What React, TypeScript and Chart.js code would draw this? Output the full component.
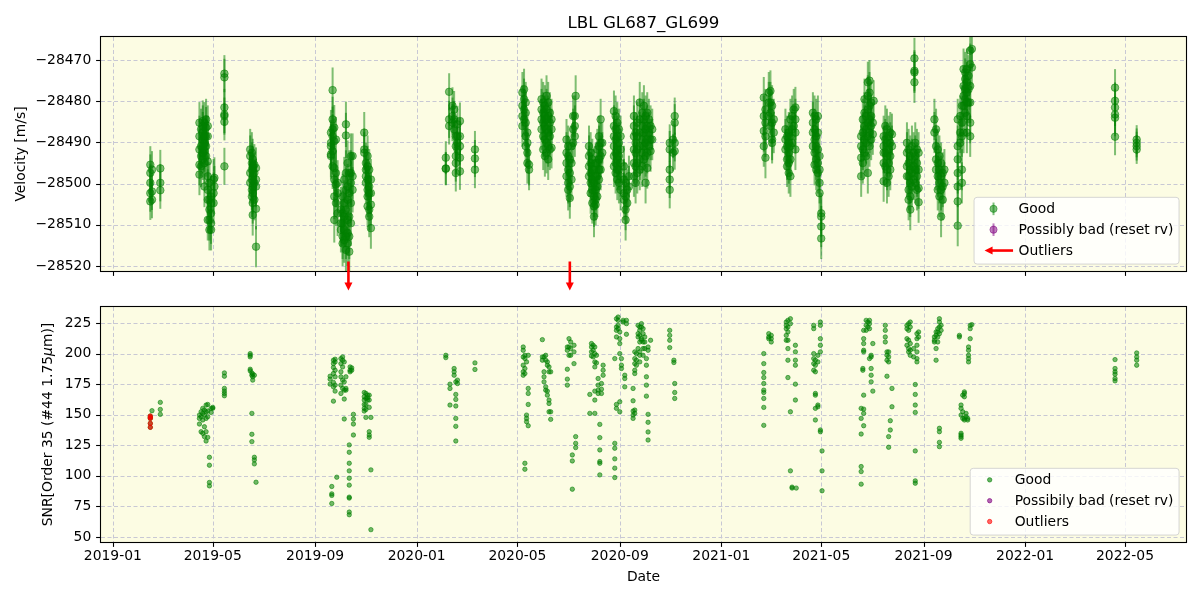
import React, { useEffect, useRef } from "react";
import { Chart, registerables } from "chart.js";

Chart.register(...registerables);

const FONT = "'DejaVu Sans', sans-serif";
const FS = 13.9;

// ---------------- data ----------------
const titleText = "LBL GL687_GL699";
const xTickLabels = ["2019-01", "2019-05", "2019-09", "2020-01", "2020-05", "2020-09", "2021-01", "2021-05", "2021-09", "2022-01", "2022-05"];
const rvTicks = [-28520, -28510, -28500, -28490, -28480, -28470];
const snrTicks = [50, 75, 100, 125, 150, 175, 200, 225];
const rvLimits = [-28521.2, -28464.4];
const snrLimits = [45.9, 238.1];
const rvLabel = "Velocity [m/s]";
const snrLabelParts = [
  { text: "SNR[Order 35 (#44 1.75", italic: false },
  { text: "\u03bc", italic: true },
  { text: "m)]", italic: false },
];
const xLabel = "Date";

const rvDates = [
  "2019-02-15", "2019-02-17", "2019-02-27",
  "2019-04-15", "2019-04-17", "2019-04-19", "2019-04-21", "2019-04-23", "2019-04-25", "2019-04-27", "2019-04-29", "2019-05-02", "2019-05-03",
  "2019-05-15",
  "2019-06-15", "2019-06-17", "2019-06-18", "2019-06-20", "2019-06-22",
  "2019-09-20", "2019-09-22", "2019-09-24", "2019-09-26", "2019-09-28", "2019-10-02", "2019-10-04", "2019-10-06", "2019-10-08", "2019-10-10", "2019-10-12", "2019-10-14", "2019-10-16",
  "2019-10-30", "2019-11-01", "2019-11-03", "2019-11-05", "2019-11-07",
  "2020-02-05", "2020-02-09", "2020-02-13", "2020-02-15", "2020-02-17", "2020-02-19", "2020-02-22", "2020-03-11",
  "2020-05-07", "2020-05-09", "2020-05-11", "2020-05-13", "2020-05-15",
  "2020-05-30", "2020-06-01", "2020-06-03", "2020-06-05", "2020-06-07", "2020-06-09", "2020-06-11",
  "2020-06-29", "2020-07-01", "2020-07-03", "2020-07-05", "2020-07-07", "2020-07-09", "2020-07-10",
  "2020-07-26", "2020-07-28", "2020-07-30", "2020-08-01", "2020-08-03", "2020-08-05", "2020-08-07", "2020-08-09", "2020-08-11",
  "2020-08-25", "2020-08-27", "2020-08-29", "2020-08-31", "2020-09-02", "2020-09-06", "2020-09-08", "2020-09-10", "2020-09-12",
  "2020-09-18", "2020-09-20", "2020-09-22", "2020-09-25", "2020-09-28", "2020-09-30", "2020-10-02", "2020-10-04", "2020-10-06", "2020-10-08", "2020-10-10",
  "2020-10-31", "2020-11-04", "2020-11-06",
  "2021-02-21", "2021-02-23", "2021-02-27", "2021-03-01", "2021-03-03", "2021-03-05",
  "2021-03-19", "2021-03-21", "2021-03-23", "2021-03-25", "2021-03-27", "2021-03-29", "2021-03-31",
  "2021-04-21", "2021-04-23", "2021-04-25", "2021-04-27", "2021-04-29", "2021-05-01",
  "2021-06-18", "2021-06-20", "2021-06-22", "2021-06-24", "2021-06-26", "2021-06-28", "2021-06-30", "2021-07-02", "2021-07-03",
  "2021-07-15", "2021-07-17", "2021-07-19", "2021-07-21", "2021-07-23", "2021-07-25",
  "2021-08-12", "2021-08-14", "2021-08-16", "2021-08-18", "2021-08-20", "2021-08-21", "2021-08-22", "2021-08-24", "2021-08-26",
  "2021-09-14", "2021-09-16", "2021-09-18", "2021-09-20", "2021-09-22", "2021-09-24", "2021-09-26",
  "2021-10-12", "2021-10-15", "2021-10-17", "2021-10-19", "2021-10-21", "2021-10-23", "2021-10-25", "2021-10-27", "2021-10-29",
  "2022-04-19", "2022-05-15",
];

const rvValues = [
  [-28495.4, -28497.4, -28499.8, -28502.3, -28504.3],
  [-28496.6, -28501.9, -28503.9],
  [-28496.3, -28499.8, -28501.6],
  [-28485.2, -28488.5, -28491.7, -28495.4, -28497.8],
  [-28486.8, -28490.9, -28493.3, -28495.8],
  [-28484.8, -28486.0, -28487.6, -28489.3, -28492.5, -28494.1],
  [-28485.2, -28488.5, -28490.1, -28492.1, -28495.0, -28500.7],
  [-28484.4, -28486.4, -28488.5, -28490.9, -28493.3],
  [-28486.0, -28488.5, -28494.6, -28498.2, -28501.5, -28503.9, -28508.8],
  [-28499.8, -28503.9, -28506.3, -28508.8, -28511.2],
  [-28503.1, -28504.7, -28507.2, -28509.6, -28511.2],
  [-28499.0, -28502.3, -28504.7],
  [-28498.6, -28500.7],
  [-28473.3, -28474.2, -28481.5, -28483.2, -28483.6, -28485.0, -28495.8],
  [-28491.7, -28493.3, -28497.4, -28499.8],
  [-28492.5, -28495.0, -28496.6, -28499.0, -28501.5, -28503.1],
  [-28494.1, -28495.8, -28498.2, -28500.7, -28502.3, -28504.7, -28507.6],
  [-28495.4, -28497.4, -28499.8, -28503.9],
  [-28496.2, -28499.0, -28500.7, -28506.1, -28515.3],
  [-28487.6, -28490.1, -28490.9, -28492.9, -28493.3],
  [-28477.3, -28484.4, -28486.8, -28488.5, -28492.1, -28495.8],
  [-28486.4, -28489.7, -28496.2, -28499.0, -28503.1, -28508.8],
  [-28489.3, -28497.4, -28500.2, -28504.7],
  [-28499.8, -28502.3, -28507.2],
  [-28506.3, -28509.6, -28511.2],
  [-28503.1, -28507.2, -28509.6, -28512.8, -28514.5],
  [-28499.0, -28504.7, -28508.0, -28511.2, -28513.7],
  [-28485.6, -28488.3, -28497.4, -28501.5, -28506.3, -28512.8, -28516.1],
  [-28495.0, -28500.7, -28503.9, -28508.8, -28512.0, -28514.5],
  [-28497.4, -28502.3, -28508.0, -28512.8, -28516.5],
  [-28493.3, -28497.4, -28499.8, -28504.7, -28509.6],
  [-28493.3, -28498.2, -28501.5],
  [-28487.6, -28491.7, -28492.5],
  [-28495.0, -28496.6, -28498.2, -28499.8],
  [-28493.3, -28495.8, -28499.0, -28501.5, -28503.1, -28505.5],
  [-28496.6, -28500.7, -28502.3, -28506.3, -28508.0],
  [-28499.0, -28502.3, -28505.1, -28510.8],
  [-28493.7, -28496.3, -28496.4],
  [-28477.7, -28484.4, -28486.0],
  [-28481.1, -28483.6, -28485.2],
  [-28482.0, -28484.4, -28486.8],
  [-28488.5, -28490.9, -28493.3, -28495.0, -28497.4],
  [-28485.6, -28488.5, -28490.1, -28491.7],
  [-28484.8, -28488.5, -28490.9, -28493.7, -28497.0],
  [-28491.7, -28493.9, -28496.6],
  [-28477.9, -28481.1, -28483.6, -28486.0],
  [-28477.1, -28479.5, -28482.0, -28484.4],
  [-28480.3, -28482.8, -28485.2, -28488.5, -28490.9],
  [-28487.6, -28490.1, -28492.5, -28495.0],
  [-28495.4, -28496.6],
  [-28479.5, -28482.0, -28484.4, -28486.8],
  [-28480.3, -28482.8, -28485.2, -28488.5, -28491.7],
  [-28481.1, -28483.6, -28486.0, -28489.3, -28493.3],
  [-28478.7, -28482.0, -28484.4, -28486.8, -28490.1, -28492.5],
  [-28480.3, -28483.6, -28487.6, -28490.9, -28494.1],
  [-28482.8, -28485.2, -28488.5, -28491.7],
  [-28484.4, -28486.8, -28491.3],
  [-28489.3, -28492.5, -28495.0, -28498.2],
  [-28490.9, -28493.3, -28496.6, -28499.8, -28501.5],
  [-28494.1, -28497.4, -28500.7, -28503.5],
  [-28490.9, -28495.0, -28499.0],
  [-28483.6, -28486.8, -28490.1],
  [-28483.6, -28486.0, -28488.5],
  [-28478.7],
  [-28490.9, -28493.3, -28495.8, -28498.2],
  [-28492.5, -28495.0, -28497.4, -28499.8, -28502.3],
  [-28494.1, -28496.6, -28499.0, -28501.5, -28504.7],
  [-28496.6, -28499.8, -28503.1, -28505.5, -28508.0],
  [-28495.0, -28498.2, -28501.5, -28503.9, -28505.1],
  [-28491.7, -28495.0, -28498.2, -28500.7, -28503.1],
  [-28488.5, -28490.9, -28494.1, -28496.6, -28499.0],
  [-28484.4, -28490.1, -28493.3, -28496.6],
  [-28490.1, -28492.5],
  [-28482.4, -28486.0, -28488.5, -28490.9, -28493.3, -28495.8],
  [-28483.6, -28486.8, -28489.3, -28492.5, -28495.0, -28497.4],
  [-28485.2, -28488.5, -28491.7, -28494.1, -28496.6, -28499.0],
  [-28486.8, -28490.1, -28493.3, -28496.6, -28499.8],
  [-28488.5, -28491.7, -28495.0, -28498.2, -28501.5],
  [-28495.8, -28499.0, -28502.3, -28503.9],
  [-28499.8, -28503.1, -28506.3, -28508.8],
  [-28501.5, -28504.7],
  [-28498.2, -28500.7],
  [-28483.6, -28486.0, -28488.5, -28491.7, -28495.0, -28498.2],
  [-28487.6, -28490.1, -28492.5, -28495.8, -28499.8],
  [-28485.2, -28488.5, -28491.7, -28495.0, -28497.4],
  [-28480.3, -28484.4, -28487.6, -28490.9, -28494.1, -28496.6],
  [-28482.8, -28486.0, -28489.3, -28492.5, -28495.8],
  [-28481.1, -28484.4, -28487.6, -28490.9, -28494.1],
  [-28483.6, -28486.8, -28490.1, -28493.3, -28499.8],
  [-28482.8, -28486.0, -28489.3, -28492.5, -28496.2],
  [-28484.4, -28487.6, -28490.9],
  [-28486.0, -28489.3, -28492.1],
  [-28486.8, -28489.3],
  [-28490.1, -28491.7, -28496.6, -28499.0, -28501.5],
  [-28489.3, -28492.5],
  [-28483.6, -28485.2, -28490.1, -28492.1],
  [-28479.1, -28483.6, -28487.2, -28490.9],
  [-28482.0, -28485.2, -28488.5, -28493.7],
  [-28477.9, -28480.3, -28483.6],
  [-28477.5, -28480.3, -28482.8, -28486.0],
  [-28481.1, -28485.2, -28489.3, -28490.1],
  [-28484.4, -28487.6],
  [-28486.8, -28489.3, -28491.7],
  [-28488.5, -28490.9, -28494.1, -28495.8],
  [-28487.6, -28490.1, -28492.5, -28495.0, -28497.4],
  [-28484.4, -28488.5, -28490.9, -28494.1, -28498.2],
  [-28483.6, -28486.8, -28490.1],
  [-28482.0, -28486.0],
  [-28481.5, -28484.4, -28487.6, -28491.7],
  [-28482.8, -28485.2, -28487.6, -28490.9],
  [-28483.6, -28486.8, -28489.3, -28492.5, -28495.4],
  [-28484.4, -28488.5, -28490.9, -28494.1, -28496.6],
  [-28483.6, -28487.6, -28491.7, -28495.0, -28497.4],
  [-28493.3, -28496.6, -28499.8, -28502.3],
  [-28507.2, -28508.0, -28510.4, -28513.3],
  [-28488.5, -28490.9, -28493.7, -28498.2],
  [-28484.4, -28487.6, -28491.7, -28495.0],
  [-28479.5, -28482.8, -28486.0, -28489.3, -28492.5],
  [-28483.6, -28486.8, -28490.1, -28493.3],
  [-28475.4, -28478.7, -28482.0, -28485.2, -28488.5, -28497.4],
  [-28475.0, -28477.9, -28481.1, -28484.4, -28487.6, -28490.9],
  [-28480.3, -28483.6, -28486.0, -28489.3],
  [-28485.2, -28488.0],
  [-28479.9],
  [-28488.5, -28490.9, -28492.5, -28495.0, -28499.4],
  [-28486.0, -28489.3, -28492.5, -28495.8],
  [-28486.8, -28490.1, -28493.3, -28496.6, -28499.8],
  [-28488.5, -28491.7, -28495.0, -28498.2],
  [-28487.6, -28490.1, -28493.3, -28496.6],
  [-28488.0, -28490.9],
  [-28490.1, -28492.5, -28495.8, -28498.2],
  [-28491.7, -28495.0, -28498.2, -28501.5, -28503.9],
  [-28493.3, -28496.6, -28499.8, -28503.1, -28506.3],
  [-28490.9, -28494.1, -28497.4, -28500.7],
  [-28492.5, -28495.8, -28499.0],
  [-28469.6, -28472.6, -28473.0, -28475.4],
  [-28490.1, -28493.3, -28496.6, -28499.8],
  [-28491.7, -28495.0, -28498.2, -28501.5],
  [-28492.5, -28496.6, -28501.1, -28504.5],
  [-28484.4, -28487.6],
  [-28486.8, -28490.9, -28494.1, -28496.6],
  [-28491.7, -28495.0, -28498.2, -28501.5],
  [-28493.3, -28496.6, -28499.8, -28503.1],
  [-28495.0, -28498.2, -28501.5, -28508.0],
  [-28497.4, -28500.7, -28503.9],
  [-28496.6, -28499.8],
  [-28484.4, -28490.9, -28494.1, -28497.4, -28500.7, -28504.3, -28510.2],
  [-28483.6, -28487.6, -28490.1],
  [-28481.1, -28485.2, -28488.5, -28496.6, -28499.8],
  [-28472.2, -28476.3, -28478.7, -28481.1, -28487.6],
  [-28473.0, -28474.6, -28477.1, -28479.5, -28482.8],
  [-28472.2, -28475.4, -28477.9, -28480.3, -28483.6, -28487.6],
  [-28473.8, -28477.1, -28480.3],
  [-28467.7, -28471.0, -28476.3, -28480.3, -28485.2, -28488.5],
  [-28467.3, -28471.8],
  [-28476.7, -28479.9, -28481.5, -28483.2, -28484.0, -28488.6],
  [-28489.3, -28490.1, -28490.9, -28491.7],
];

const rvErrors = [
  4.5, 4.5, 4.5,
  5, 5, 5, 5, 5, 5, 5, 5, 5, 5,
  4.5,
  5, 5, 5, 5, 5,
  5.5, 5.5, 5.5, 5.5, 5.5, 5.5, 5.5, 5.5, 5.5, 5.5, 5.5, 5.5, 5.5,
  5, 5, 5, 5, 5,
  4, 4.5, 4.5, 4.5, 4.5, 4.5, 4.5, 4.5,
  5, 5, 5, 5, 5,
  5, 5, 5, 5, 5, 5, 5,
  5, 5, 5, 5, 5, 5, 5,
  5, 5, 5, 5, 5, 5, 5, 5, 5,
  5, 5, 5, 5, 5, 5, 5, 5, 5,
  5, 5, 5, 5, 5, 5, 5, 5, 5, 5, 5,
  4.5, 4.5, 4.5,
  5, 5, 5, 5, 5, 5,
  5, 5, 5, 5, 5, 5, 5,
  5, 5, 5, 5, 5, 5,
  5, 5, 5, 5, 5, 5, 5, 5, 5,
  5, 5, 5, 5, 5, 5,
  5, 5, 5, 5, 5, 5, 5, 5, 5,
  5, 5, 5, 5, 5, 5, 5,
  5, 5, 5, 5, 5, 5, 5, 5, 5,
  4.5, 3.5,
];

const rvOutlierArrowDates = ["2019-10-11", "2020-07-03"];

const snrDates = [
  "2019-02-15", "2019-02-17", "2019-02-27",
  "2019-04-15", "2019-04-17", "2019-04-19", "2019-04-21", "2019-04-23", "2019-04-25", "2019-04-27", "2019-04-29", "2019-05-01",
  "2019-05-15",
  "2019-06-15", "2019-06-17", "2019-06-18", "2019-06-20", "2019-06-22",
  "2019-09-19", "2019-09-21", "2019-09-23", "2019-09-25", "2019-09-27", "2019-10-02", "2019-10-04", "2019-10-06", "2019-10-08", "2019-10-12", "2019-10-13", "2019-10-15", "2019-10-17",
  "2019-10-30", "2019-11-01", "2019-11-03", "2019-11-05", "2019-11-07",
  "2020-02-05", "2020-02-10", "2020-02-15", "2020-02-17", "2020-02-19", "2020-03-11",
  "2020-05-08", "2020-05-10", "2020-05-12", "2020-05-14",
  "2020-05-31", "2020-06-02", "2020-06-04", "2020-06-06", "2020-06-08", "2020-06-10",
  "2020-06-30", "2020-07-02", "2020-07-04", "2020-07-06", "2020-07-08", "2020-07-10",
  "2020-07-27", "2020-07-29", "2020-07-31", "2020-08-02", "2020-08-04", "2020-08-06", "2020-08-08", "2020-08-10", "2020-08-12",
  "2020-08-26", "2020-08-28", "2020-08-30", "2020-09-01", "2020-09-03", "2020-09-05", "2020-09-07", "2020-09-09",
  "2020-09-17", "2020-09-19", "2020-09-21", "2020-09-23", "2020-09-25", "2020-09-27", "2020-09-29", "2020-10-01", "2020-10-03", "2020-10-05", "2020-10-08",
  "2020-10-31", "2020-11-05", "2020-11-06",
  "2021-02-21", "2021-02-27", "2021-03-02",
  "2021-03-20", "2021-03-22", "2021-03-25", "2021-03-27", "2021-03-31", "2021-04-01",
  "2021-04-22", "2021-04-24", "2021-04-27", "2021-04-30", "2021-05-02",
  "2021-06-18", "2021-06-20", "2021-06-21", "2021-06-24", "2021-06-26", "2021-06-28", "2021-06-30", "2021-07-02",
  "2021-07-17", "2021-07-19", "2021-07-21", "2021-07-23", "2021-07-25",
  "2021-08-12", "2021-08-14", "2021-08-16", "2021-08-20", "2021-08-22", "2021-08-24", "2021-08-26",
  "2021-09-14", "2021-09-16", "2021-09-18", "2021-09-20", "2021-09-22",
  "2021-10-14", "2021-10-16", "2021-10-18", "2021-10-20", "2021-10-22", "2021-10-24", "2021-10-25", "2021-10-27", "2021-10-29",
  "2022-04-19", "2022-05-15",
];

const snrValues = [
  [148.9, 147.8, 147.0, 142.9, 139.7],
  [153.3],
  [160.1, 154.3, 150.3],
  [149.7, 147.0, 142.4],
  [152.4, 148.4, 136.1],
  [155.2, 151.1, 145.7, 134.8],
  [153.8, 149.7, 140.2, 132.1],
  [157.9, 152.4, 147.0, 136.1, 128.5],
  [158.4, 153.0, 148.4, 131.5],
  [115.2, 108.7, 94.6, 91.8],
  [155.2, 151.9],
  [156.0, 155.2],
  [184.2, 181.5, 171.5, 169.3, 167.4, 165.5],
  [200.0, 198.6, 197.3, 187.2, 185.9],
  [184.2, 182.3, 151.1, 134.0, 128.0],
  [183.2, 181.0, 178.3],
  [182.3, 115.2, 113.0, 109.8],
  [94.8],
  [181.5, 179.1, 175.0],
  [91.3, 85.3, 84.0, 77.4],
  [194.6, 191.8, 188.6, 183.7, 176.4, 172.8, 161.1],
  [195.4, 193.2, 186.4, 181.0, 174.2, 169.3],
  [98.9],
  [195.9, 191.8, 185.1, 181.0, 174.2, 167.4],
  [197.3, 194.6, 189.1, 178.3, 171.5],
  [193.2, 176.9, 170.1, 162.8, 146.5],
  [181.0, 171.5, 170.1],
  [125.3, 119.3, 110.3, 104.1, 98.1, 92.4, 82.6, 81.8, 70.4, 68.2],
  [189.1, 186.4, 185.1],
  [188.3, 186.4],
  [150.3, 146.5, 142.4, 133.4],
  [168.2, 164.7, 162.0, 158.4, 155.2, 153.0],
  [167.4, 163.3, 158.4, 154.3, 147.8],
  [166.0, 163.9, 162.0],
  [166.0, 162.0, 156.0, 136.1, 133.4, 131.5],
  [147.8, 104.9, 56.0],
  [198.6, 196.7],
  [175.0, 171.5, 157.9],
  [187.8, 185.1, 182.3],
  [176.9, 166.6, 162.5, 157.1, 147.0, 140.5, 128.5],
  [178.3, 175.5],
  [192.4, 187.0],
  [205.4, 202.7, 197.3, 190.5, 185.1, 182.3],
  [198.6, 196.0, 187.8, 183.7, 110.3, 105.4],
  [193.2, 149.7, 147.0, 144.3],
  [198.6, 171.5, 167.4, 158.4, 141.0],
  [211.4, 197.3, 194.6],
  [197.3, 185.1, 181.0, 176.9],
  [198.6, 194.6, 172.8, 170.1],
  [193.2, 190.5, 169.3, 166.0],
  [189.1, 185.1, 162.0, 159.2, 152.4],
  [185.1, 152.4, 146.2],
  [205.4, 202.7, 187.2, 179.1, 174.2],
  [212.2, 205.4, 198.6],
  [209.5, 204.1, 198.6],
  [117.1, 112.2, 89.1],
  [206.8, 201.4, 191.8],
  [132.1, 126.6, 123.1],
  [166.6, 151.1],
  [208.2, 205.4, 201.4, 198.1],
  [206.8, 202.7, 197.3],
  [205.4, 200.0, 193.2, 189.1, 169.3, 162.0, 151.1],
  [198.6, 192.4],
  [179.6, 174.2, 170.1, 167.4],
  [142.1, 131.3, 121.2, 111.7, 110.3, 100.8],
  [175.5, 170.9, 167.4],
  [190.5, 186.4, 182.3],
  [195.9, 126.6, 122.6, 113.9, 106.3, 98.6],
  [228.5, 221.7, 219.0, 213.6, 158.4, 155.2],
  [229.9, 227.2, 223.1, 220.4],
  [217.7, 212.2, 208.2, 200.0, 160.6, 152.4],
  [195.9, 190.5, 187.8],
  [227.2, 225.8],
  [182.3, 179.6, 172.8],
  [227.2, 224.5, 215.8],
  [171.5, 161.4, 153.0, 149.7, 147.0],
  [201.4, 195.9, 191.8, 186.4, 183.7, 153.8, 151.1],
  [200.0, 194.6, 190.5],
  [223.1, 216.3, 213.6, 204.1],
  [221.7, 219.0, 214.9, 209.5, 201.4, 198.6, 193.2],
  [224.5, 221.7, 212.2, 210.9],
  [220.4, 216.3, 209.5, 204.1, 198.6],
  [213.6, 209.5, 204.1],
  [195.9, 190.5, 181.0, 174.2, 165.2],
  [205.4, 202.7, 150.3, 143.8, 135.9, 129.3],
  [210.9],
  [219.0, 214.9, 210.9, 204.9],
  [194.6, 192.7],
  [175.5, 168.2, 163.3],
  [200.0, 191.8, 184.5, 180.4, 175.5, 170.1, 168.2, 163.3, 156.0, 141.3],
  [216.3, 213.6, 212.2],
  [214.9, 212.2, 209.5],
  [225.8, 223.1, 220.4, 214.9, 210.9],
  [227.2, 221.7, 217.7, 210.9, 204.1, 194.6, 180.4],
  [228.5, 224.5, 152.4, 104.1],
  [90.8, 90.0],
  [206.8, 201.4, 194.6, 190.5, 175.0, 162.0],
  [90.0],
  [223.1, 220.4, 200.0, 195.9, 191.8, 186.4],
  [194.6, 190.5, 185.1, 167.4, 166.0, 155.2, 145.7],
  [198.6, 193.2, 157.9, 156.5],
  [225.8, 223.1, 212.2, 206.8, 201.4, 137.5, 136.1],
  [120.4, 104.1, 87.8],
  [155.2, 147.0, 134.2, 107.6, 103.5, 93.2],
  [187.8, 186.4],
  [219.0, 212.2, 208.2, 202.7, 201.4, 166.0, 154.6, 151.1, 141.0],
  [227.2, 223.1, 219.0],
  [225.8, 221.7],
  [227.2, 224.5, 220.4, 195.9],
  [198.6, 197.3, 187.8, 182.3, 176.9],
  [208.2, 169.3],
  [223.1, 219.0, 213.6, 209.5],
  [201.4, 198.6, 194.6, 181.5],
  [201.4, 197.3, 193.2, 132.1, 123.4],
  [145.1, 137.5],
  [171.5, 156.5],
  [223.1, 220.4, 212.2, 206.8],
  [224.5, 219.0, 210.9, 204.1, 201.4],
  [225.8, 221.7, 208.2, 202.7, 198.6],
  [204.1, 197.3],
  [174.7, 166.6, 157.9, 151.9, 120.4, 95.9, 94.0],
  [216.3, 212.2, 206.8, 201.4, 195.9, 193.2],
  [217.7, 213.6],
  [213.6, 210.9, 209.5],
  [217.7, 214.9, 204.1, 194.6],
  [220.4, 217.7, 213.6, 209.5],
  [228.5, 225.8, 221.7, 216.3, 138.9, 136.1, 127.4, 123.9],
  [223.1, 219.0],
  [214.9, 213.6],
  [157.9, 155.2, 149.7, 134.8, 133.4, 132.1, 130.7],
  [166.0, 152.4, 147.0],
  [168.7, 167.4, 164.7, 147.0, 145.7],
  [151.1, 148.4],
  [147.0, 145.7],
  [205.4, 202.7, 198.6, 195.9, 193.2],
  [223.1, 220.4, 212.2],
  [223.7],
  [195.1, 187.8, 185.1, 183.2, 179.6, 177.7],
  [200.5, 197.3, 194.6, 190.5],
];

const snrOutlierDates = ["2019-02-15"];
const snrOutlierValues = [[148.9, 147.8, 147.0, 142.9, 139.7]];

const badDates: string[] = [];
const badValues: number[][] = [];

// ---------------- helpers ----------------
const toDay = (s: string) => {
  const [y, m, d] = s.split("-").map(Number);
  return (Date.UTC(y, m - 1, d || 1) - Date.UTC(2019, 0, 1)) / 86400000;
};
const xTickDays = xTickLabels.map((l) => toDay(l + "-01"));
const allDays = [...rvDates, ...snrDates].map(toDay);
const dMin = Math.min(...allDays);
const dMax = Math.max(...allDays);
const xMin = dMin - 0.05 * (dMax - dMin);
const xMax = dMax + 0.05 * (dMax - dMin);

const rvPoints = rvDates.flatMap((d, i) => rvValues[i].map((v) => ({ x: toDay(d), y: v, err: rvErrors[i] })));
const snrPoints = snrDates.flatMap((d, i) => snrValues[i].map((v) => ({ x: toDay(d), y: v })));
const snrOutPoints = snrOutlierDates.flatMap((d, i) => snrOutlierValues[i].map((v) => ({ x: toDay(d), y: v })));
const badPoints = badDates.flatMap((d, i) => badValues[i].map((v) => ({ x: toDay(d), y: v })));

const FACE = "rgb(252,252,227)";
const GRID = "rgb(200,200,212)";
const GREEN = "0,128,0";
const PURPLE = "128,0,128";
const RED = "255,0,0";
const fmtMinus = (v: number) => (v < 0 ? "\u2212" + Math.abs(v) : String(v));

// canvas geometry (page px)
const TOP_CANVAS = { top: 0, height: 295, padTop: 37, axisH: 24 };
const BOT_CANVAS = { top: 280, height: 320, padTop: 27, axisH: 58 };

function xScale(showLabels: boolean, height: number) {
  return {
    type: "linear",
    min: xMin,
    max: xMax,
    grid: { display: false, drawTicks: false, tickLength: 0 },
    border: { display: false },
    ticks: {
      display: showLabels,
      autoSkip: false,
      maxRotation: 0,
      minRotation: 0,
      padding: 5.6,
      color: "#000",
      font: { family: FONT, size: FS },
      callback: (_v: any, i: number) => xTickLabels[i],
    },
    afterBuildTicks: (s: any) => {
      s.ticks = xTickDays.map((v) => ({ value: v }));
    },
    afterFit: (s: any) => {
      s.height = height;
    },
  };
}

function yScale(limits: number[], ticks: number[]) {
  return {
    type: "linear",
    min: limits[0],
    max: limits[1],
    grid: { display: false, drawTicks: false, tickLength: 0 },
    border: { display: false },
    ticks: {
      padding: 9.7,
      color: "#000",
      font: { family: FONT, size: FS },
      callback: (v: number) => fmtMinus(v),
    },
    afterBuildTicks: (s: any) => {
      s.ticks = ticks.map((v) => ({ value: v }));
    },
    afterFit: (s: any) => {
      s.width = 101;
    },
  };
}

function line(ctx: CanvasRenderingContext2D, x1: number, y1: number, x2: number, y2: number) {
  ctx.beginPath();
  ctx.moveTo(x1, y1);
  ctx.lineTo(x2, y2);
  ctx.stroke();
}

function drawArrowDown(ctx: CanvasRenderingContext2D, x: number, y0: number, y1: number) {
  ctx.save();
  ctx.strokeStyle = "red";
  ctx.fillStyle = "red";
  ctx.lineWidth = 2.6;
  line(ctx, x, y0, x, y1 - 6);
  ctx.beginPath();
  ctx.moveTo(x - 4, y1 - 8);
  ctx.lineTo(x + 4, y1 - 8);
  ctx.lineTo(x, y1);
  ctx.closePath();
  ctx.fill();
  ctx.restore();
}

function drawArrowLeft(ctx: CanvasRenderingContext2D, x0: number, x1: number, y: number) {
  ctx.save();
  ctx.strokeStyle = "red";
  ctx.fillStyle = "red";
  ctx.lineWidth = 2.6;
  line(ctx, x0 + 6, y, x1, y);
  ctx.beginPath();
  ctx.moveTo(x0 + 8, y - 4);
  ctx.lineTo(x0 + 8, y + 4);
  ctx.lineTo(x0, y);
  ctx.closePath();
  ctx.fill();
  ctx.restore();
}

function dot(ctx: CanvasRenderingContext2D, x: number, y: number, r: number, rgb: string, a: number) {
  ctx.beginPath();
  ctx.arc(x, y, r, 0, Math.PI * 2);
  ctx.fillStyle = `rgba(${rgb},${a})`;
  ctx.fill();
  ctx.lineWidth = 1;
  ctx.strokeStyle = `rgba(${rgb},${a})`;
  ctx.stroke();
}

type LegendItem = { label: string; kind: "err" | "arrow" | "dot"; rgb?: string };

function drawLegend(chart: any, items: LegendItem[]) {
  const { ctx, chartArea: a } = chart;
  ctx.save();
  ctx.font = `${FS}px ${FONT}`;
  const bp = 0.4 * FS, ls = 0.5 * FS, hl = 2 * FS, htp = 0.8 * FS, h = FS;
  const tw = Math.max(...items.map((it) => ctx.measureText(it.label).width));
  const w = 2 * bp + hl + htp + tw;
  const H = 2 * bp + items.length * h + (items.length - 1) * ls;
  const right = a.right - 0.5 * FS;
  const bottom = a.bottom - 0.5 * FS;
  const left = right - w;
  const top = bottom - H;
  ctx.beginPath();
  const r = 3;
  ctx.moveTo(left + r, top);
  ctx.lineTo(right - r, top);
  ctx.quadraticCurveTo(right, top, right, top + r);
  ctx.lineTo(right, bottom - r);
  ctx.quadraticCurveTo(right, bottom, right - r, bottom);
  ctx.lineTo(left + r, bottom);
  ctx.quadraticCurveTo(left, bottom, left, bottom - r);
  ctx.lineTo(left, top + r);
  ctx.quadraticCurveTo(left, top, left + r, top);
  ctx.closePath();
  ctx.fillStyle = "rgba(255,255,255,0.8)";
  ctx.fill();
  ctx.strokeStyle = "rgba(204,204,204,0.8)";
  ctx.lineWidth = 1;
  ctx.stroke();
  items.forEach((it, i) => {
    const cy = top + bp + h / 2 + i * (h + ls) - 1;
    const hx = left + bp + hl / 2;
    if (it.kind === "err") {
      ctx.strokeStyle = `rgba(${it.rgb},0.5)`;
      ctx.lineWidth = 2;
      line(ctx, hx, cy - 6.3, hx, cy + 6.3);
      dot(ctx, hx, cy, 3.6, it.rgb!, 0.5);
    } else if (it.kind === "dot") {
      dot(ctx, hx, cy, 2.2, it.rgb!, 0.6);
    } else {
      drawArrowLeft(ctx, left + 10.5, left + 39, cy);
    }
    ctx.fillStyle = "#000";
    ctx.textBaseline = "middle";
    ctx.textAlign = "left";
    ctx.fillText(it.label, left + bp + hl + htp, cy + 0.5);
  });
  ctx.restore();
}

function drawRotated(ctx: CanvasRenderingContext2D, parts: { text: string; italic: boolean }[], cx: number, cy: number) {
  ctx.save();
  ctx.translate(cx, cy);
  ctx.rotate(-Math.PI / 2);
  const fonts = parts.map((p) => `${p.italic ? "italic " : ""}${FS}px ${FONT}`);
  const ws = parts.map((p, i) => {
    ctx.font = fonts[i];
    return ctx.measureText(p.text).width;
  });
  const total = ws.reduce((s, w) => s + w, 0);
  let x = -total / 2;
  ctx.textBaseline = "middle";
  ctx.textAlign = "left";
  ctx.fillStyle = "#000";
  parts.forEach((p, i) => {
    ctx.font = fonts[i];
    ctx.fillText(p.text, x, 0);
    x += ws[i];
  });
  ctx.restore();
}

function decor(cfg: {
  errorBars: boolean;
  arrows?: string[];
  legend: LegendItem[];
  title?: string;
  yLabel: { text: string; italic: boolean }[];
  yLabelX: number;
  xLabel?: string;
}) {
  return {
    id: "decor",
    beforeDatasetsDraw(chart: any) {
      const { ctx, chartArea: a, scales } = chart;
      const xs = scales.x, ys = scales.y;
      ctx.save();
      ctx.fillStyle = FACE;
      ctx.fillRect(a.left, a.top, a.right - a.left, a.bottom - a.top);
      ctx.strokeStyle = GRID;
      ctx.lineWidth = 1;
      ctx.setLineDash([4, 2.5]);
      xs.ticks.forEach((t: any) => {
        const px = Math.round(xs.getPixelForValue(t.value)) + 0.5;
        line(ctx, px, a.top, px, a.bottom);
      });
      ys.ticks.forEach((t: any) => {
        const py = Math.round(ys.getPixelForValue(t.value)) + 0.5;
        line(ctx, a.left, py, a.right, py);
      });
      ctx.setLineDash([]);
      if (cfg.errorBars) {
        ctx.beginPath();
        ctx.rect(a.left, a.top, a.right - a.left, a.bottom - a.top);
        ctx.clip();
        chart.data.datasets.forEach((ds: any, di: number) => {
          if (!ds.errColor) return;
          const meta = chart.getDatasetMeta(di);
          ctx.strokeStyle = ds.errColor;
          ctx.lineWidth = 2;
          meta.data.forEach((el: any, j: number) => {
            const d = ds.data[j];
            const y1 = ys.getPixelForValue(d.y + d.err);
            const y2 = ys.getPixelForValue(d.y - d.err);
            line(ctx, el.x, y1, el.x, y2);
          });
        });
      }
      ctx.restore();
    },
    afterDatasetsDraw(chart: any) {
      const { ctx, chartArea: a, scales } = chart;
      const xs = scales.x, ys = scales.y;
      ctx.save();
      ctx.strokeStyle = "#000";
      ctx.lineWidth = 1.1;
      ctx.strokeRect(a.left - 0.5, a.top - 0.5, a.right - a.left + 1, a.bottom - a.top + 1);
      xs.ticks.forEach((t: any) => {
        const px = Math.round(xs.getPixelForValue(t.value)) + 0.5;
        line(ctx, px, a.bottom, px, a.bottom + 4.9);
      });
      ys.ticks.forEach((t: any) => {
        const py = Math.round(ys.getPixelForValue(t.value)) + 0.5;
        line(ctx, a.left - 4.9, py, a.left, py);
      });
      ctx.restore();
      (cfg.arrows || []).forEach((d) => {
        const px = xs.getPixelForValue(toDay(d));
        drawArrowDown(ctx, px, a.bottom - 9.5, a.bottom + 19.5);
      });
      drawLegend(chart, cfg.legend);
      ctx.save();
      ctx.fillStyle = "#000";
      if (cfg.title) {
        ctx.font = `16.7px ${FONT}`;
        ctx.textAlign = "center";
        ctx.textBaseline = "alphabetic";
        ctx.fillText(cfg.title, (a.left + a.right) / 2, a.top - 9);
      }
      if (cfg.xLabel) {
        ctx.font = `${FS}px ${FONT}`;
        ctx.textAlign = "center";
        ctx.textBaseline = "middle";
        ctx.fillText(cfg.xLabel, (a.left + a.right) / 2, a.bottom + 35);
      }
      ctx.restore();
      drawRotated(ctx, cfg.yLabel, cfg.yLabelX, (a.top + a.bottom) / 2);
    },
  };
}

export default function App() {
  const topRef = useRef<HTMLCanvasElement>(null);
  const botRef = useRef<HTMLCanvasElement>(null);

  useEffect(() => {
    Chart.defaults.font.family = FONT;
    const top = new Chart(topRef.current as HTMLCanvasElement, {
      type: "scatter",
      data: {
        datasets: [
          {
            label: "Good",
            data: rvPoints,
            pointRadius: 3.8,
            pointBackgroundColor: `rgba(${GREEN},0.5)`,
            pointBorderColor: `rgba(${GREEN},0.5)`,
            pointBorderWidth: 1,
            errColor: `rgba(${GREEN},0.5)`,
            order: 2,
          } as any,
          {
            label: "Possibly bad (reset rv)",
            data: badPoints,
            pointRadius: 3.8,
            pointBackgroundColor: `rgba(${PURPLE},0.5)`,
            pointBorderColor: `rgba(${PURPLE},0.5)`,
            order: 1,
          },
        ],
      },
      options: {
        animation: false,
        responsive: false,
        maintainAspectRatio: false,
        events: [],
        layout: { padding: { left: 0, right: 14, top: TOP_CANVAS.padTop, bottom: 0 } },
        plugins: { legend: { display: false }, tooltip: { enabled: false }, title: { display: false } },
        scales: { x: xScale(false, TOP_CANVAS.axisH) as any, y: yScale(rvLimits, rvTicks) as any },
      },
      plugins: [
        decor({
          errorBars: true,
          arrows: rvOutlierArrowDates,
          title: titleText,
          yLabel: [{ text: rvLabel, italic: false }],
          yLabelX: 21,
          legend: [
            { label: "Good", kind: "err", rgb: GREEN },
            { label: "Possibly bad (reset rv)", kind: "err", rgb: PURPLE },
            { label: "Outliers", kind: "arrow" },
          ],
        }),
      ],
    } as any);

    const bot = new Chart(botRef.current as HTMLCanvasElement, {
      type: "scatter",
      data: {
        datasets: [
          {
            label: "Good",
            data: snrPoints,
            pointRadius: 2.2,
            pointBackgroundColor: `rgba(${GREEN},0.55)`,
            pointBorderColor: `rgba(${GREEN},0.55)`,
            pointBorderWidth: 1,
            order: 3,
          },
          {
            label: "Possibily bad (reset rv)",
            data: badPoints,
            pointRadius: 2.2,
            pointBackgroundColor: `rgba(${PURPLE},0.55)`,
            pointBorderColor: `rgba(${PURPLE},0.55)`,
            order: 2,
          },
          {
            label: "Outliers",
            data: snrOutPoints,
            pointRadius: 2.2,
            pointBackgroundColor: `rgba(${RED},0.6)`,
            pointBorderColor: `rgba(${RED},0.6)`,
            pointBorderWidth: 1,
            order: 1,
          },
        ],
      },
      options: {
        animation: false,
        responsive: false,
        maintainAspectRatio: false,
        events: [],
        layout: { padding: { left: 0, right: 14, top: BOT_CANVAS.padTop, bottom: 0 } },
        plugins: { legend: { display: false }, tooltip: { enabled: false }, title: { display: false } },
        scales: { x: xScale(true, BOT_CANVAS.axisH) as any, y: yScale(snrLimits, snrTicks) as any },
      },
      plugins: [
        decor({
          errorBars: false,
          yLabel: snrLabelParts,
          yLabelX: 48,
          xLabel: xLabel,
          legend: [
            { label: "Good", kind: "dot", rgb: GREEN },
            { label: "Possibily bad (reset rv)", kind: "dot", rgb: PURPLE },
            { label: "Outliers", kind: "dot", rgb: RED },
          ],
        }),
      ],
    } as any);

    return () => {
      top.destroy();
      bot.destroy();
    };
  }, []);

  return (
    <div style={{ position: "fixed", left: 0, top: 0, width: 1200, height: 600, background: "#fff" }}>
      <canvas
        ref={botRef}
        width={1200}
        height={BOT_CANVAS.height}
        style={{ position: "absolute", left: 0, top: BOT_CANVAS.top, width: 1200, height: BOT_CANVAS.height }}
      />
      <canvas
        ref={topRef}
        width={1200}
        height={TOP_CANVAS.height}
        style={{ position: "absolute", left: 0, top: TOP_CANVAS.top, width: 1200, height: TOP_CANVAS.height }}
      />
    </div>
  );
}
